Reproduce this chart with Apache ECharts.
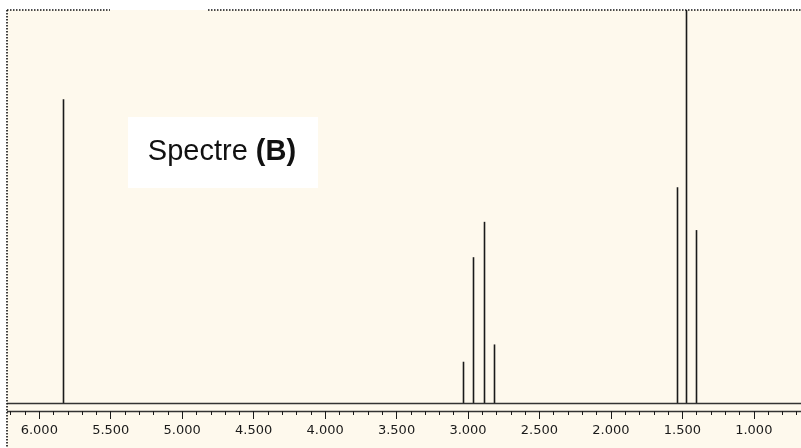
<!DOCTYPE html>
<html>
<head>
<meta charset="utf-8">
<script src="https://cdn.jsdelivr.net/npm/echarts@6/dist/echarts.min.js"></script>
<style>
html,body{margin:0;padding:0;background:#ffffff;}
#chart{width:801px;height:448px;}
</style>
</head>
<body>
<div id="chart"></div>
<script>
// Chemical shifts (ppm) of the peaks
const shifts = [5.832, 3.035, 2.967, 2.886, 2.818, 1.540, 1.471, 1.401];
// Relative intensities (% of tallest peak)
const intensities = [77.3, 10.5, 37.1, 46.1, 14.9, 54.9, 100, 44.0];
// Axis tick labels
const tickValues = [6.0, 5.5, 5.0, 4.5, 4.0, 3.5, 3.0, 2.5, 2.0, 1.5, 1.0];
const titleText = 'Spectre ';
const titleBold = '(B)';

const chart = echarts.init(document.getElementById('chart'), null, {renderer: 'canvas'});
const peaks = shifts.map((s, i) => [s, intensities[i]]);
const BG = '#fef9ed';
const INK = '#1a1a1a';

const option = {
  backgroundColor: '#ffffff',
  animation: false,
  grid: {left: -32.15, right: -24.25, top: 10, bottom: 45, containLabel: false, outerBoundsMode: 'none'},
  xAxis: {
    type: 'value',
    inverse: true,
    min: 0.5,
    max: 6.5,
    interval: 0.5,
    offset: 8,
    axisLine: {show: true, onZero: false, lineStyle: {color: '#333', width: 1.3}},
    axisTick: {show: true, length: 8, lineStyle: {color: INK, width: 1}},
    minorTick: {show: true, splitNumber: 5, length: 4, lineStyle: {color: INK, width: 1}},
    splitLine: {show: false},
    minorSplitLine: {show: false},
    axisLabel: {
      margin: 13,
      fontFamily: 'DejaVu Sans',
      fontSize: 13,
      color: '#1a1a1a',
      formatter: v => (tickValues.some(t => Math.abs(t - v) < 1e-6) ? v.toFixed(3) : '')
    }
  },
  yAxis: {type: 'value', min: 0, max: 100, show: false},
  graphic: [
    {type: 'rect', z: -10, silent: true, shape: {x: 7, y: 10, width: 794, height: 438}, style: {fill: BG}},
    {type: 'rect', z: 100, silent: true, shape: {x: 0, y: 0, width: 7, height: 448}, style: {fill: '#ffffff'}},
    {type: 'line', z: 101, silent: true, shape: {x1: 7, y1: 10, x2: 110, y2: 10}, style: {stroke: '#111', lineWidth: 1.6, lineDash: [1.5, 1.5]}},
    {type: 'line', z: 101, silent: true, shape: {x1: 208, y1: 10, x2: 801, y2: 10}, style: {stroke: '#111', lineWidth: 1.6, lineDash: [1.5, 1.5]}},
    {type: 'line', z: 101, silent: true, shape: {x1: 7, y1: 10, x2: 7, y2: 448}, style: {stroke: '#111', lineWidth: 1.6, lineDash: [1.5, 1.5]}},
    {type: 'rect', z: 50, silent: true, shape: {x: 128, y: 117, width: 190, height: 71}, style: {fill: '#ffffff'}},
    {
      type: 'text', z: 51, silent: true, x: 222, y: 152,
      style: {
        text: '{n|' + titleText + '}{b|' + titleBold + '}',
        align: 'center', verticalAlign: 'middle',
        rich: {
          n: {fontFamily: 'Liberation Sans', fontSize: 29, fill: '#111', fontWeight: 'normal'},
          b: {fontFamily: 'Liberation Sans', fontSize: 29, fill: '#111', fontWeight: 'bold'}
        }
      }
    }
  ],
  series: [{
    type: 'custom',
    clip: false,
    data: peaks,
    renderItem: function (params, api) {
      const p0 = api.coord([api.value(0), 0]);
      const p1 = api.coord([api.value(0), api.value(1)]);
      return {
        type: 'line',
        shape: {x1: Math.round(p0[0]) + 0.5, y1: p0[1], x2: Math.round(p1[0]) + 0.5, y2: p1[1]},
        style: {stroke: INK, lineWidth: 1.6}
      };
    },
    markLine: {
      silent: true,
      symbol: 'none',
      label: {show: false},
      lineStyle: {color: '#333', width: 1.3, type: 'solid'},
      data: [{yAxis: 0}]
    }
  }]
};
chart.setOption(option);
</script>
</body>
</html>
